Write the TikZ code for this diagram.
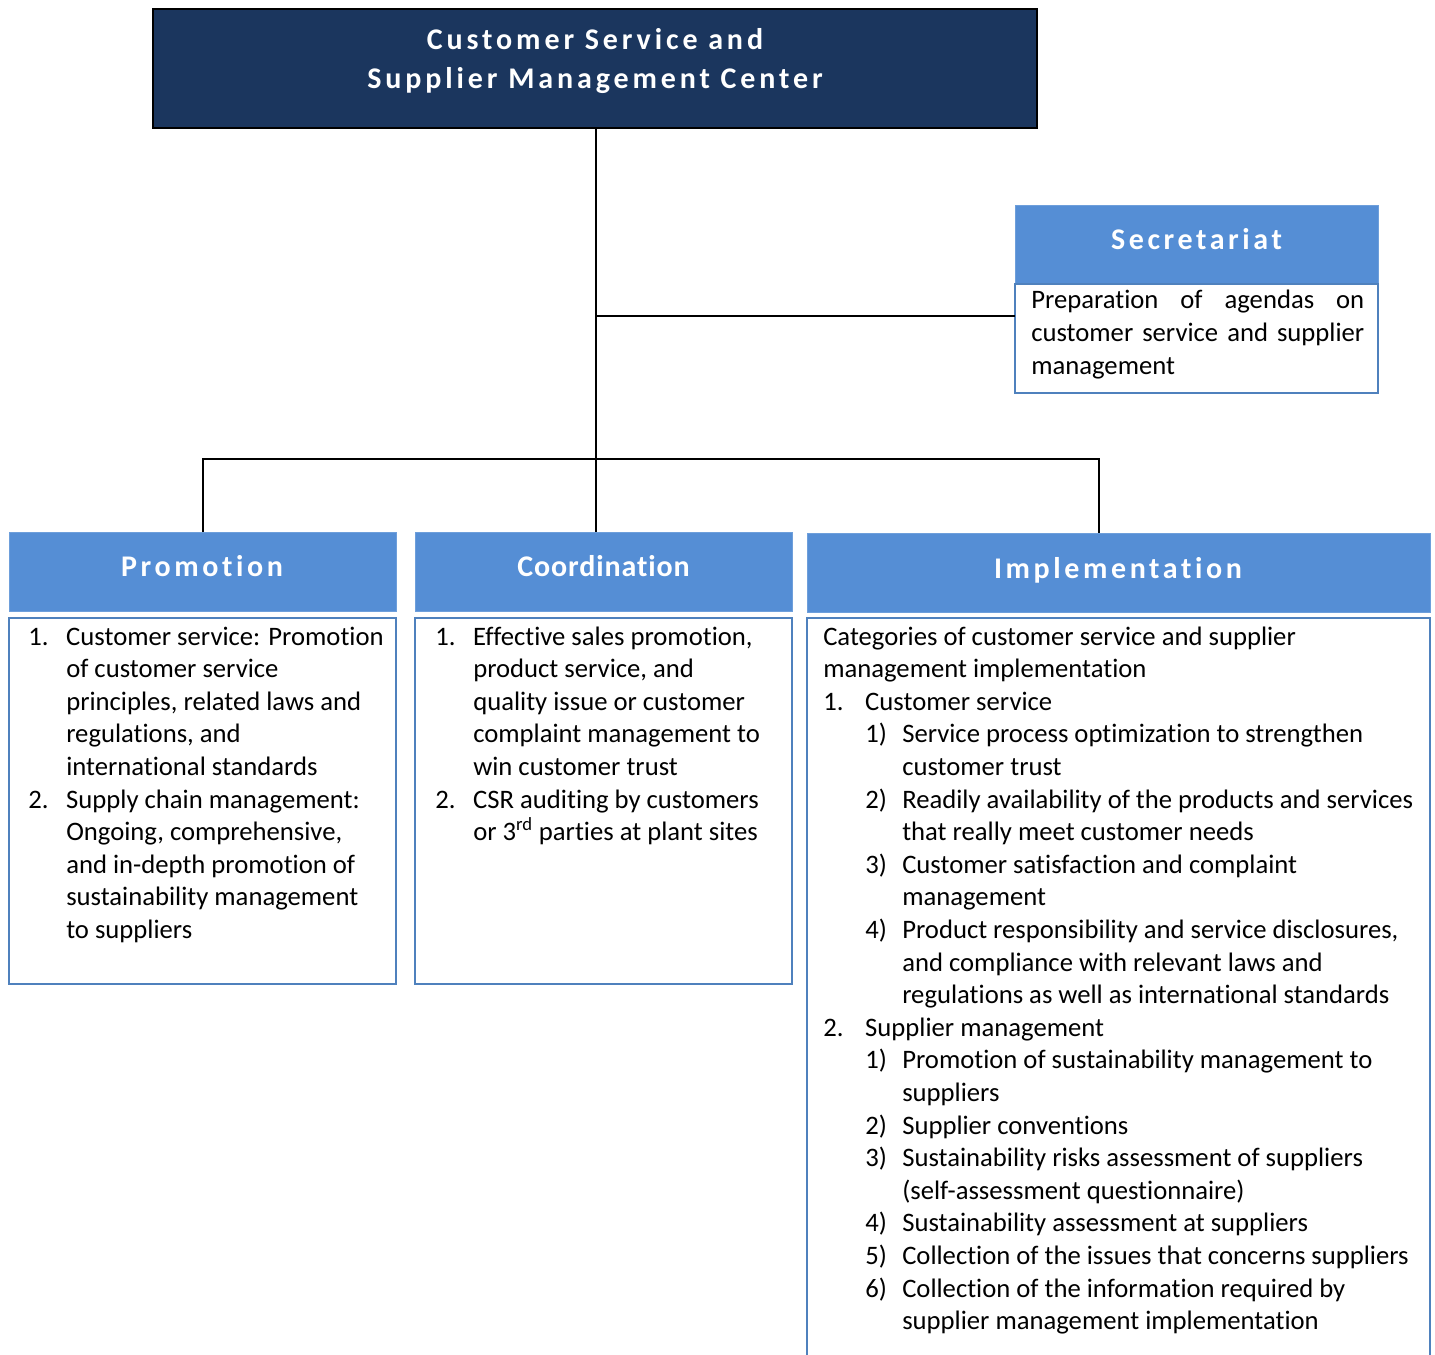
\documentclass[tikz,border=0pt]{standalone}
\usepackage{fontspec}
\setmainfont{Carlito}[Ligatures=NoCommon]
\definecolor{titlenavy}{RGB}{27,54,94}
\definecolor{headblue}{RGB}{85,142,213}
\definecolor{edgeblue}{RGB}{79,129,189}
% "t" and "i" set as separate letters
\newcommand\tI{t\kern0pt i}
% the same inside tracked headings: the gap is the tracking amount
\newcommand\tIk[1]{t\kern#1em i}
% one line of a list: indent, label width, label, text
\newcommand\lrow[4]{\hbox{\hspace*{#1pt}\makebox[#2pt][l]{#3}#4}}
% continuation line of a list item
\newcommand\crow[2]{\hbox{\hspace*{#1pt}#2}}
\newcommand\bodyfont{\fontsize{20}{24.45}\selectfont}
\newcommand\headfont{\fontsize{22.5}{28.5}\selectfont\bfseries}
\begin{document}
\begin{tikzpicture}[x=0.75pt,y=-0.75pt,
  titlebox/.style={draw=black, line width=1pt, fill=titlenavy, inner sep=0pt, outer sep=0pt},
  headbox/.style={fill=headblue, draw=headblue!85!white, line width=0.6pt, inner sep=0pt, outer sep=0pt},
  bodybox/.style={draw=edgeblue, fill=white, line width=1.4pt, inner sep=0pt, outer sep=0pt},
  headtext/.style={anchor=base, inner sep=0pt, text=white, font=\headfont},
  bodytext/.style={anchor=base west, inner sep=0pt, font=\bodyfont},
  conn/.style={draw=black, line width=1.5pt}
]
\useasboundingbox[fill=white] (0,0) rectangle (1435,1355);

% top unit
\node[titlebox, minimum width=663pt, minimum height=89.25pt] (center) at (595,68.5) {};
\node[headtext] (centertitle) at (595,50) {\addfontfeatures{LetterSpace=13}\vtop{\baselineskip=29.25pt
  \hbox to 0pt{\hss Customer Service and\hss}
  \hbox to 0pt{\hss Supplier Management Center\hss}}};

% secretariat
\node[headbox, minimum width=272.25pt, minimum height=58.5pt] (sechead) at (1196.5,244) {};
\node[headtext] (sectitle) at (1196.5,250) {\addfontfeatures{LetterSpace=12}Secretariat};
\node[bodybox, minimum width=272.25pt, minimum height=81.75pt] (secbody) at (1196.5,338.5) {};
\node[bodytext] (sectext) at (1031,309) {\vtop{\baselineskip=24.45pt
  \hbox to 249.75pt{Prepara\tI on\hfill of\hfill agendas\hfill on}
  \hbox to 249.75pt{customer\hfill service\hfill and\hfill supplier}
  \hbox{management}}};

% promotion
\node[headbox, minimum width=290.25pt, minimum height=59.25pt] (promhead) at (202.5,571.5) {};
\node[headtext] (promtitle) at (202,576) {\addfontfeatures{LetterSpace=12}Promo\tIk{0.12}on};
\node[bodybox, minimum width=290.25pt, minimum height=274.5pt] (prombody) at (202.5,801) {};
\node[bodytext] (promtext) at (28,645) {\vtop{\baselineskip=24.45pt
  \lrow{0}{28.5}{1.}{Customer service: Promo\tI on}
  \crow{28.5}{of customer service}
  \crow{28.5}{principles, related laws and}
  \crow{28.5}{regula\tI ons, and}
  \crow{28.5}{interna\tI onal standards}
  \lrow{0}{28.5}{2.}{Supply chain management:}
  \crow{28.5}{Ongoing, comprehensive,}
  \crow{28.5}{and in-depth promo\tI on of}
  \crow{28.5}{sustainability management}
  \crow{28.5}{to suppliers}}};

% coordination
\node[headbox, minimum width=282.75pt, minimum height=59.25pt] (coordhead) at (603.5,571.5) {};
\node[headtext] (coordtitle) at (603.5,576) {\addfontfeatures{LetterSpace=3}Coordina\tIk{0.03}on};
\node[bodybox, minimum width=282.75pt, minimum height=274.5pt] (coordbody) at (603.5,801) {};
\node[bodytext] (coordtext) at (435,645) {\vtop{\baselineskip=24.45pt
  \lrow{0}{28.5}{1.}{Effec\tI ve sales promo\tI on,}
  \crow{28.5}{product service, and}
  \crow{28.5}{quality issue or customer}
  \crow{28.5}{complaint management to}
  \crow{28.5}{win customer trust}
  \lrow{0}{28.5}{2.}{CSR audi\tI ng by customers}
  \crow{28.5}{or 3\textsuperscript{rd} par\tI es at plant sites}}};

% implementation
\node[headbox, minimum width=467.25pt, minimum height=59.25pt] (implhead) at (1118.5,572.5) {};
\node[headtext] (impltitle) at (1118,578) {\addfontfeatures{LetterSpace=12}Implementa\tIk{0.12}on};
\node[bodybox, minimum width=467.25pt, minimum height=573pt] (implbody) at (1118.5,1000) {};
\node[bodytext] (impltext) at (823,645) {\vtop{\baselineskip=24.45pt
  \crow{0}{Categories of customer service and supplier}
  \crow{0}{management implementa\tI on}
  \lrow{0}{31.5}{1.}{Customer service}
  \lrow{31.5}{27.75}{1)}{Service process op\tI miza\tI on to strengthen}
  \crow{59.25}{customer trust}
  \lrow{31.5}{27.75}{2)}{Readily availability of the products and services}
  \crow{59.25}{that really meet customer needs}
  \lrow{31.5}{27.75}{3)}{Customer sa\tI sfac\tI on and complaint}
  \crow{59.25}{management}
  \lrow{31.5}{27.75}{4)}{Product responsibility and service disclosures,}
  \crow{59.25}{and compliance with relevant laws and}
  \crow{59.25}{regula\tI ons as well as interna\tI onal standards}
  \lrow{0}{31.5}{2.}{Supplier management}
  \lrow{31.5}{27.75}{1)}{Promo\tI on of sustainability management to}
  \crow{59.25}{suppliers}
  \lrow{31.5}{27.75}{2)}{Supplier conven\tI ons}
  \lrow{31.5}{27.75}{3)}{Sustainability risks assessment of suppliers}
  \crow{59.25}{(self-assessment ques\tI onnaire)}
  \lrow{31.5}{27.75}{4)}{Sustainability assessment at suppliers}
  \lrow{31.5}{27.75}{5)}{Collec\tI on of the issues that concerns suppliers}
  \lrow{31.5}{27.75}{6)}{Collec\tI on of the informa\tI on required by}
  \crow{59.25}{supplier management implementa\tI on}}};

% connectors
\coordinate (sectap) at (596,316);
\coordinate (bus) at (596,459);
\coordinate (implbus) at (1099,459);
\draw[conn] (center.south -| sectap) -- (sectap |- coordhead.north);
\draw[conn] (sectap) -- (sectap -| secbody.west);
\draw[conn] (promhead.north) -- (promhead.north |- bus) -- (implbus) -- (implbus |- implhead.north);
\end{tikzpicture}
\end{document}
